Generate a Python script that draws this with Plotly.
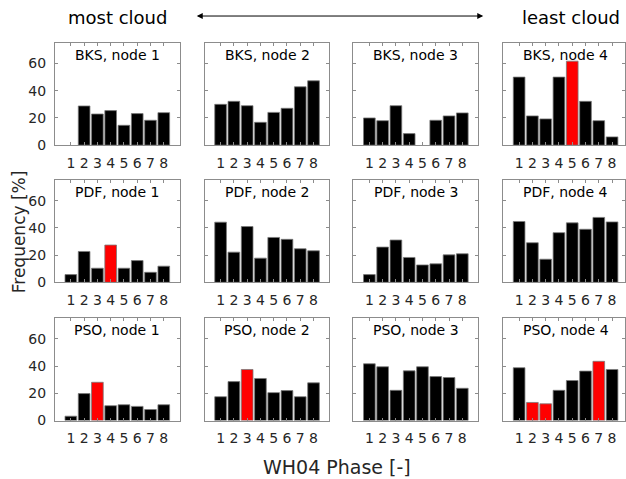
import plotly.graph_objects as go

phases = [1, 2, 3, 4, 5, 6, 7, 8]
methods = ["BKS", "PDF", "PSO"]
nodes = [1, 2, 3, 4]

bks = [
    [0, 28.8, 22.9, 25.4, 14.6, 23.2, 18.3, 23.9],
    [30.0, 32.2, 29.0, 16.8, 24.1, 27.1, 42.9, 47.3],
    [20.0, 18.0, 29.0, 8.5, 0, 18.3, 21.5, 23.7],
    [50.0, 21.5, 19.3, 50.0, 61.7, 32.2, 18.0, 6.1],
]
pdf = [
    [5.7, 22.7, 10.4, 27.4, 10.4, 16.0, 7.4, 11.9],
    [44.2, 22.2, 41.0, 17.8, 33.0, 31.6, 24.7, 23.2],
    [5.7, 25.9, 31.1, 18.3, 12.8, 13.6, 20.2, 21.0],
    [44.7, 29.1, 17.0, 36.5, 43.7, 39.0, 47.7, 44.4],
]
pso = [
    [3.2, 19.8, 28.1, 10.9, 11.6, 10.4, 8.1, 11.6],
    [17.5, 28.6, 37.5, 30.9, 20.5, 22.0, 17.5, 27.7],
    [41.7, 39.5, 22.2, 36.5, 39.5, 32.3, 31.6, 23.7],
    [38.8, 13.3, 12.3, 22.2, 29.4, 36.3, 43.5, 37.5],
]
# highlighted (red) phases per method/node
highlight = {
    ("BKS", 4): [5],
    ("PDF", 1): [4],
    ("PSO", 1): [3],
    ("PSO", 2): [3],
    ("PSO", 4): [2, 3, 7],
}
y_ticks = [0, 20, 40, 60]
x_label = "WH04 Phase [-]"
y_label = "Frequency [%]"

data = {"BKS": bks, "PDF": pdf, "PSO": pso}

W, H = 626, 479
YS = 1 / 0.982  # vertical correction observed in the rendered page


def py(y):
    return max(0.0, min(1.0, 1 - y * YS / H))


col_px = [(55, 180), (205, 330), (354, 479), (504, 626)]
row_px = [(43, 145), (180, 282), (318, 420)]
px_per_unit = 125 / 9.4

font = "DejaVu Sans, Liberation Sans, Arial, sans-serif"
axcol = "#8c8c8c"
txtcol = "#262626"

fig = go.Figure()
layout = dict(
    width=W, height=H, margin=dict(l=0, r=0, t=0, b=0),
    paper_bgcolor="white", plot_bgcolor="white", showlegend=False,
    font=dict(family=font, size=14, color=txtcol),
    bargap=0,
)
annotations = []
k = 0
for r, m in enumerate(methods):
    for c, n in enumerate(nodes):
        k += 1
        sfx = "" if k == 1 else str(k)
        vals = data[m][c]
        hl = highlight.get((m, n), [])
        colors = ["#ff0000" if p in hl else "#000000" for p in phases]
        lw = [0 if v == 0 else 0.8 for v in vals]
        fig.add_trace(go.Bar(
            x=phases, y=vals, width=0.88,
            marker=dict(color=colors, line=dict(color="#7a7a7a", width=lw)),
            xaxis="x" + sfx, yaxis="y" + sfx,
        ))
        x0, x1 = col_px[c]
        y0, y1 = row_px[r]
        xr_hi = -0.2 + (x1 - x0) / px_per_unit
        layout["xaxis" + sfx] = dict(
            domain=[x0 / W, x1 / W], range=[-0.2, xr_hi],
            anchor="y" + sfx, tickmode="array", tickvals=phases,
            ticktext=[str(p) for p in phases],
            ticks="inside", ticklen=3, tickcolor=axcol, showline=True,
            linecolor=axcol, linewidth=1, mirror="ticks", showgrid=False,
            zeroline=False, tickfont=dict(size=14, color=txtcol),
            ticklabelstandoff=5, fixedrange=True,
        )
        layout["yaxis" + sfx] = dict(
            domain=[py(y1), py(y0)], range=[0, 75],
            anchor="x" + sfx, tickmode="array", tickvals=y_ticks,
            ticktext=[str(t) for t in y_ticks],
            showticklabels=(c == 0),
            ticks="inside", ticklen=3, tickcolor=axcol, showline=True,
            linecolor=axcol, linewidth=1, mirror="ticks", showgrid=False,
            zeroline=False, tickfont=dict(size=14, color=txtcol),
            ticklabelstandoff=5, fixedrange=True,
        )
        annotations.append(dict(
            text=f"{m}, node {n}", xref="paper", yref="paper",
            x=(x0 + 125 / 2) / W, y=py(y0 + 12),
            xanchor="center", yanchor="middle", showarrow=False,
            font=dict(size=14, color="#000000"),
        ))

annotations += [
    dict(text="most cloud", xref="paper", yref="paper", x=118 / W, y=py(17),
         xanchor="center", yanchor="middle", showarrow=False,
         font=dict(size=18, color="#000000")),
    dict(text="least cloud", xref="paper", yref="paper", x=572 / W, y=py(17),
         xanchor="center", yanchor="middle", showarrow=False,
         font=dict(size=18, color="#000000")),
    dict(text="", xref="paper", yref="paper", axref="pixel", ayref="pixel",
         x=484 / W, y=py(16), ax=-288, ay=0,
         showarrow=True, arrowside="end+start", arrowhead=2, arrowsize=1.2,
         arrowwidth=1, arrowcolor="#000000"),
    dict(text=x_label, xref="paper", yref="paper", x=338 / W, y=py(466),
         xanchor="center", yanchor="middle", showarrow=False,
         font=dict(size=19, color=txtcol)),
    dict(text=y_label, xref="paper", yref="paper", x=19 / W, y=py(231),
         xanchor="center", yanchor="middle", showarrow=False, textangle=-90,
         font=dict(size=17, color=txtcol)),
]
layout["annotations"] = annotations
fig.update_layout(**layout)
fig.write_html(
    "out.html",
    config={"displayModeBar": False, "staticPlot": True},
    post_script=(
        "document.body.style.margin='0';"
        "document.body.style.overflow='hidden';"
        "document.documentElement.style.overflow='hidden';"
    ),
)
